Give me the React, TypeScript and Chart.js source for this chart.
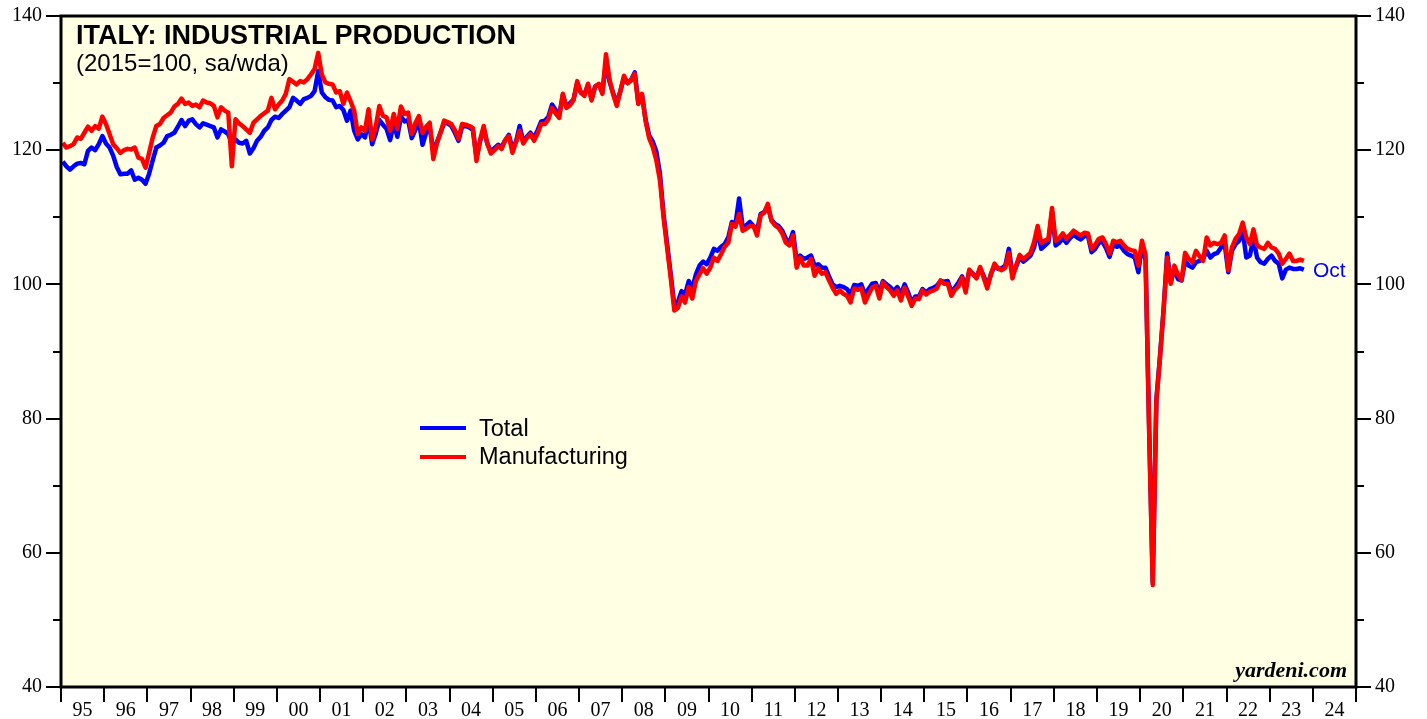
import React, { useEffect, useRef } from 'react';
import { Chart, registerables } from 'chart.js';

Chart.register(...registerables);

const START_YEAR = 1995;
const END_YEAR = 2025;
const YEAR_LABELS = ['95','96','97','98','99','00','01','02','03','04','05','06','07','08','09','10','11','12','13','14','15','16','17','18','19','20','21','22','23','24'];
const Y_MAJOR = [40, 60, 80, 100, 120, 140];
const Y_MINOR = [50, 70, 90, 110, 130];

// Monthly, Jan 1995 .. Oct 2023 (2015=100)
const totalValues = [
  118.3, 117.6, 117.1, 117.6, 118.0, 118.1, 117.9, 119.9, 120.4, 120.0, 120.9, 122.1, // 1995
  121.0, 120.4, 119.2, 117.5, 116.4, 116.5, 116.5, 117.0, 115.6, 115.9, 115.6, 115.0, // 1996
  116.5, 118.5, 120.4, 120.7, 121.1, 122.1, 122.3, 122.6, 123.5, 124.5, 123.6, 124.4, // 1997
  124.6, 123.9, 123.4, 124.0, 123.8, 123.6, 123.4, 121.9, 123.1, 122.8, 122.4, 121.0, // 1998
  121.6, 121.1, 121.0, 121.4, 119.5, 120.3, 121.4, 122.0, 122.9, 123.4, 124.5, 125.0, // 1999
  124.8, 125.4, 125.9, 126.4, 127.8, 127.4, 126.9, 127.6, 127.8, 128.1, 128.8, 131.8, // 2000
  128.6, 127.9, 127.5, 127.4, 126.4, 126.6, 126.0, 124.4, 125.9, 122.9, 121.6, 122.4, // 2001
  121.9, 124.5, 120.9, 122.5, 124.5, 123.8, 123.2, 121.5, 124.0, 122.0, 125.0, 124.3, // 2002
  124.5, 121.8, 123.0, 124.4, 120.8, 122.6, 123.5, 119.8, 121.2, 122.6, 124.0, 124.0, // 2003
  123.6, 122.6, 121.4, 123.5, 123.6, 123.4, 123.0, 119.0, 121.3, 123.2, 121.0, 119.8, // 2004
  120.3, 120.8, 120.5, 121.5, 122.3, 120.2, 121.3, 123.6, 121.3, 122.0, 122.6, 121.8, // 2005
  123.0, 124.3, 124.4, 125.0, 126.8, 126.0, 125.2, 128.2, 126.5, 127.0, 127.6, 130.0, // 2006
  128.6, 128.3, 129.7, 127.6, 129.5, 129.8, 128.6, 133.0, 130.2, 128.5, 127.0, 128.8, // 2007
  130.8, 130.0, 130.5, 131.6, 127.0, 128.3, 124.6, 122.2, 121.3, 119.8, 116.5, 110.5, // 2008
  106.0, 101.5, 96.8, 97.4, 99.0, 98.5, 100.5, 99.4, 101.5, 102.8, 103.4, 103.0, // 2009
  104.0, 105.3, 105.0, 105.6, 106.0, 107.0, 109.3, 109.0, 112.8, 108.5, 108.8, 109.3, // 2010
  108.7, 108.0, 110.5, 110.8, 111.6, 109.6, 109.0, 108.7, 108.0, 106.8, 106.2, 107.8, // 2011
  103.5, 104.3, 103.8, 104.0, 104.3, 102.8, 103.0, 102.5, 102.5, 101.2, 100.0, 99.6, // 2012
  99.8, 99.6, 99.3, 98.5, 99.9, 99.8, 100.0, 98.5, 99.3, 100.1, 100.2, 98.8, // 2013
  100.5, 100.0, 99.6, 99.0, 99.6, 98.5, 100.0, 98.8, 97.3, 98.2, 98.2, 99.3, // 2014
  98.8, 99.3, 99.5, 99.8, 100.5, 100.4, 100.5, 98.9, 99.5, 100.3, 101.2, 99.5, // 2015
  102.0, 101.6, 101.0, 102.4, 101.3, 99.8, 101.5, 102.8, 102.3, 102.4, 102.8, 105.3, // 2016
  101.5, 102.6, 104.0, 103.4, 103.8, 104.3, 105.5, 108.0, 105.3, 105.8, 106.3, 110.8, // 2017
  105.8, 106.2, 106.9, 106.2, 106.9, 107.4, 107.0, 106.7, 107.2, 107.2, 104.8, 105.3, // 2018
  106.2, 106.4, 105.4, 104.1, 105.9, 105.6, 105.8, 105.0, 104.5, 104.3, 104.0, 101.8, // 2019
  105.8, 103.6, 78.5, 55.6, 82.8, 89.2, 96.2, 104.6, 100.3, 102.3, 100.8, 100.6, // 2020
  103.5, 102.8, 102.5, 103.3, 103.5, 103.8, 105.0, 104.0, 104.5, 104.7, 105.5, 106.0, // 2021
  101.8, 105.0, 106.0, 106.5, 108.0, 104.0, 104.3, 106.8, 104.0, 103.3, 103.1, 103.8, // 2022
  104.3, 103.5, 103.1, 100.9, 102.2, 102.5, 102.3, 102.3, 102.4, 102.2, // 2023 (to Oct)
];

const manufacturingValues = [
  121.1, 120.4, 120.6, 120.9, 121.9, 121.7, 122.6, 123.5, 122.9, 123.6, 123.2, 125.0, // 1995
  123.9, 122.4, 120.9, 120.3, 119.6, 120.0, 120.2, 120.1, 120.4, 118.9, 118.7, 117.4, // 1996
  119.6, 121.9, 123.6, 123.9, 124.8, 125.2, 125.6, 126.5, 126.9, 127.7, 126.9, 127.1, // 1997
  126.6, 126.8, 126.4, 127.4, 127.1, 127.0, 126.6, 124.9, 126.4, 125.9, 125.6, 117.6, // 1998
  124.6, 124.0, 123.6, 123.1, 122.6, 124.1, 124.6, 125.1, 125.5, 125.9, 127.8, 126.1, // 1999
  126.8, 127.4, 128.4, 130.6, 130.2, 129.8, 130.3, 130.1, 130.6, 131.3, 132.1, 134.5, // 2000
  131.3, 130.1, 129.9, 129.8, 128.6, 128.8, 126.9, 128.6, 127.3, 125.9, 122.4, 123.4, // 2001
  122.9, 126.1, 121.6, 123.5, 126.6, 125.1, 124.9, 122.9, 125.4, 123.2, 126.5, 125.4, // 2002
  125.6, 122.4, 124.0, 125.1, 122.6, 123.5, 124.1, 118.7, 121.0, 122.6, 124.4, 124.2, // 2003
  123.9, 123.0, 121.7, 123.9, 123.8, 123.6, 123.3, 118.4, 121.5, 123.6, 121.0, 119.5, // 2004
  120.0, 120.6, 120.2, 121.5, 122.1, 119.6, 121.2, 122.9, 121.0, 121.8, 122.4, 121.4, // 2005
  122.5, 123.9, 123.9, 124.6, 126.3, 125.5, 124.8, 128.4, 126.3, 126.7, 127.5, 130.3, // 2006
  128.6, 128.1, 129.9, 127.4, 129.5, 129.9, 128.4, 134.3, 130.5, 128.3, 126.6, 128.8, // 2007
  131.1, 130.0, 130.4, 131.4, 126.9, 128.4, 124.4, 121.8, 120.5, 118.5, 115.5, 110.0, // 2008
  105.5, 101.0, 96.1, 96.5, 98.2, 97.3, 99.6, 97.9, 100.5, 101.5, 102.4, 101.6, // 2009
  102.5, 104.0, 103.5, 104.5, 105.6, 106.2, 109.0, 108.6, 110.5, 108.0, 108.3, 108.7, // 2010
  108.7, 107.3, 110.3, 110.7, 112.0, 109.5, 108.8, 108.4, 107.6, 106.2, 105.8, 107.3, // 2011
  102.5, 104.0, 102.8, 102.8, 103.8, 101.3, 102.4, 101.6, 101.8, 100.6, 99.5, 98.6, // 2012
  99.1, 98.6, 98.3, 97.3, 99.4, 99.2, 99.4, 97.3, 98.5, 99.5, 99.8, 97.9, // 2013
  100.3, 99.6, 99.1, 98.3, 99.1, 97.6, 99.5, 98.2, 96.8, 97.9, 97.8, 99.1, // 2014
  98.5, 98.9, 99.1, 99.4, 100.6, 100.1, 100.1, 98.3, 99.2, 99.7, 101.0, 98.8, // 2015
  102.2, 101.5, 100.9, 102.6, 101.0, 99.4, 101.5, 103.1, 102.4, 102.1, 102.5, 104.7, // 2016
  100.9, 102.8, 104.4, 103.8, 104.2, 104.7, 106.3, 108.7, 106.2, 106.5, 106.8, 111.4, // 2017
  106.5, 106.9, 107.6, 106.8, 107.4, 108.0, 107.6, 107.3, 107.7, 107.6, 105.3, 105.9, // 2018
  106.8, 107.0, 106.0, 104.6, 106.5, 106.3, 106.5, 105.8, 105.3, 105.1, 105.0, 102.8, // 2019
  106.5, 104.4, 78.0, 55.2, 82.5, 89.0, 96.0, 104.0, 100.1, 102.8, 101.5, 100.6, // 2020
  104.7, 103.8, 103.3, 105.0, 104.2, 103.5, 107.0, 105.8, 106.2, 106.0, 106.2, 107.3, // 2021
  102.1, 105.5, 106.8, 107.5, 109.2, 107.0, 106.0, 108.2, 105.8, 105.5, 105.3, 106.2, // 2022
  105.5, 105.3, 104.6, 103.1, 103.8, 104.6, 103.5, 103.5, 103.7, 103.5, // 2023 (to Oct)
];

const toPoints = (values: number[]) =>
  values.map((v, i) => ({ x: START_YEAR + (i + 0.5) / 12, y: v }));

const SERIF = "'Liberation Serif', 'Times New Roman', serif";
const SANS = "'Liberation Sans', Arial, Helvetica, sans-serif";

const plotBg = {
  id: 'plotBg',
  beforeDraw(chart: any) {
    const { ctx, chartArea } = chart;
    ctx.save();
    ctx.fillStyle = '#ffffe3';
    ctx.fillRect(chartArea.left, chartArea.top, chartArea.right - chartArea.left, chartArea.bottom - chartArea.top);
    ctx.restore();
  },
};

const frameAndMinor = {
  id: 'frameAndMinor',
  afterDraw(chart: any) {
    const { ctx, chartArea } = chart;
    const yL = chart.scales.y;
    ctx.save();
    ctx.strokeStyle = '#000';
    ctx.lineWidth = 2;
    ctx.beginPath();
    Y_MINOR.forEach((v) => {
      const py = Math.round(yL.getPixelForValue(v));
      ctx.moveTo(chartArea.left - 8, py);
      ctx.lineTo(chartArea.left, py);
      ctx.moveTo(chartArea.right, py);
      ctx.lineTo(chartArea.right + 8, py);
    });
    ctx.stroke();
    ctx.lineWidth = 3;
    ctx.strokeRect(chartArea.left, chartArea.top, chartArea.right - chartArea.left, chartArea.bottom - chartArea.top);
    ctx.restore();
  },
};

export default function App() {
  const canvasRef = useRef<HTMLCanvasElement | null>(null);

  useEffect(() => {
    const canvas = canvasRef.current;
    if (!canvas) return;
    const yTickOpts = {
      min: 40,
      max: 140,
      afterBuildTicks: (s: any) => {
        s.ticks = Y_MAJOR.map((v) => ({ value: v }));
      },
      ticks: { padding: 4, color: '#000', font: { family: SERIF, size: 20 } },
      grid: { drawOnChartArea: false, tickLength: 15, color: '#000', lineWidth: 2 },
      border: { display: false },
    };
    const chart = new Chart(canvas, {
      type: 'line',
      data: {
        datasets: [
          {
            label: 'Manufacturing',
            data: toPoints(manufacturingValues),
            borderColor: '#ff0000',
            backgroundColor: '#ff0000',
            borderWidth: 4.5,
            pointRadius: 0,
            tension: 0,
            borderJoinStyle: 'round',
            order: 0,
          },
          {
            label: 'Total',
            data: toPoints(totalValues),
            borderColor: '#0000ff',
            backgroundColor: '#0000ff',
            borderWidth: 4.5,
            pointRadius: 0,
            tension: 0,
            borderJoinStyle: 'round',
            order: 1,
          },
        ],
      },
      options: {
        responsive: false,
        animation: false,
        devicePixelRatio: 1,
        layout: { padding: { top: 15, left: 0, right: 0, bottom: 0 } },
        plugins: { legend: { display: false }, tooltip: { enabled: false }, title: { display: false } },
        scales: {
          x: {
            type: 'linear',
            min: START_YEAR,
            max: END_YEAR,
            afterFit: (s: any) => {
              s.height = 32;
            },
            afterBuildTicks: (s: any) => {
              const t = [];
              for (let y = START_YEAR; y <= END_YEAR; y++) t.push({ value: y });
              s.ticks = t;
            },
            ticks: {
              autoSkip: false,
              maxRotation: 0,
              minRotation: 0,
              labelOffset: 21.6,
              padding: -3,
              color: '#000',
              font: { family: SERIF, size: 20 },
              callback: (v: any) => YEAR_LABELS[Math.round(Number(v) - START_YEAR)] ?? '',
            },
            grid: { drawOnChartArea: false, tickLength: 15, color: '#000', lineWidth: 2 },
            border: { display: false },
          },
          y: {
            position: 'left',
            ...yTickOpts,
            afterFit: (s: any) => {
              s.width = 61;
            },
          },
          y2: {
            position: 'right',
            ...yTickOpts,
            afterFit: (s: any) => {
              s.width = 71;
            },
          },
        },
      } as any,
      plugins: [plotBg, frameAndMinor],
    });
    return () => chart.destroy();
  }, []);

  const abs = (o: React.CSSProperties): React.CSSProperties => ({ position: 'absolute', whiteSpace: 'nowrap', lineHeight: 1, ...o });

  return (
    <div style={{ position: 'fixed', left: 0, top: 0, width: 1427, height: 719, background: '#ffffff', overflow: 'hidden' }}>
      <canvas ref={canvasRef} width={1427} height={719} style={{ display: 'block', width: 1427, height: 719 }} />
      <div style={abs({ left: 76, top: 21.5, fontFamily: SANS, fontWeight: 'bold', fontSize: 27, color: '#000' })}>
        ITALY: INDUSTRIAL PRODUCTION
      </div>
      <div style={abs({ left: 76, top: 51.4, fontFamily: SANS, fontSize: 24, color: '#000' })}>(2015=100, sa/wda)</div>
      <div style={abs({ left: 420, top: 426.3, width: 46, height: 4, background: '#0000ff' })} />
      <div style={abs({ left: 479, top: 416.8, fontFamily: SANS, fontSize: 23.5, color: '#000' })}>Total</div>
      <div style={abs({ left: 420, top: 454.7, width: 46, height: 4, background: '#ff0000' })} />
      <div style={abs({ left: 479, top: 445.1, fontFamily: SANS, fontSize: 23.5, color: '#000' })}>Manufacturing</div>
      <div style={abs({ left: 1313, top: 259.2, fontFamily: SANS, fontSize: 21, color: '#0000ff' })}>Oct</div>
      <div style={abs({ right: 80, top: 658.6, fontFamily: SERIF, fontStyle: 'italic', fontWeight: 'bold', fontSize: 22, color: '#000' })}>
        yardeni.com
      </div>
    </div>
  );
}
